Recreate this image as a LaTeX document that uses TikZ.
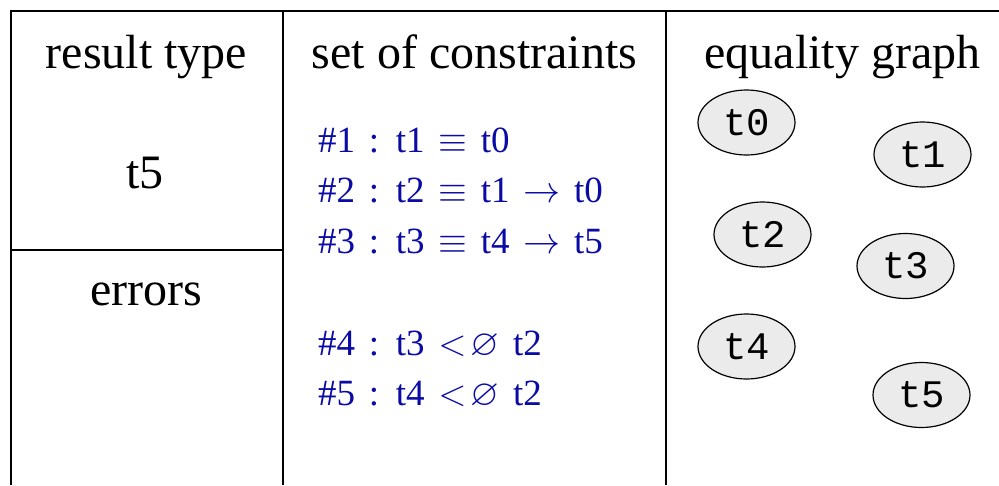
\documentclass[tikz,border=0pt]{standalone}
\usepackage{fix-cm}
\usepackage{amssymb}
\usepackage{fontspec}
\setmainfont{Liberation Serif}
\setmonofont{Liberation Mono}
\usetikzlibrary{shapes.geometric}
\definecolor{cblue}{RGB}{10,10,165}
\definecolor{nodegray}{RGB}{235,235,235}
\newcommand\myconsfont{\fontsize{37}{44}\selectfont\spaceskip 0.37em\relax}
\begin{document}
\begin{tikzpicture}[x=1pt,y=-1pt,
  frame/.style={line width=2pt, black},
  head/.style={anchor=base, font=\fontsize{48}{58}\selectfont, inner sep=0pt},
  cons/.style={anchor=base west, inner sep=0pt, text=cblue, font=\myconsfont},
  tnode/.style={ellipse, draw, line width=1.2pt, fill=nodegray, minimum width=97pt, minimum height=65pt, inner sep=0pt, font=\fontsize{39}{46}\selectfont\ttfamily}]
\useasboundingbox (0,0) rectangle (999,485);
% frame
\draw[frame] (10.5,485) -- (10.5,11) -- (999,11);
\draw[frame] (283,11) -- (283,485);
\draw[frame] (666,11) -- (666,485);
\draw[frame] (10.5,250) -- (283,250);
% headers
\node[head] (h1) at (146.5,68) {result type};
\node[head] (h2) at (474.5,68) {set of constraints};
\node[head] (h3) at (842.5,68) {equality graph};
\node[head] (rt) at (145,188) {t5};
\node[head] (err) at (146.5,305) {errors};
% constraints
\node[cons] (c1) at (318,152) {\#1 : t1 $\equiv$ t0};
\node[cons] (c2) at (318,202) {\#2 : t2 $\equiv$ t1 $\rightarrow$ t0};
\node[cons] (c3) at (318,253) {\#3 : t3 $\equiv$ t4 $\rightarrow$ t5};
\node[cons] (c4) at (318,355) {\#4 : t3 $<\!\varnothing$ t2};
\node[cons] (c5) at (318,405) {\#5 : t4 $<\!\varnothing$ t2};
% equality graph
\node[tnode] (t0) at (746.5,122.5) {t0};
\node[tnode] (t1) at (922.5,154.5) {t1};
\node[tnode] (t2) at (762.5,234.5) {t2};
\node[tnode] (t3) at (905.5,266) {t3};
\node[tnode] (t4) at (746.5,346.5) {t4};
\node[tnode] (t5) at (921.5,395) {t5};
\end{tikzpicture}
\end{document}
